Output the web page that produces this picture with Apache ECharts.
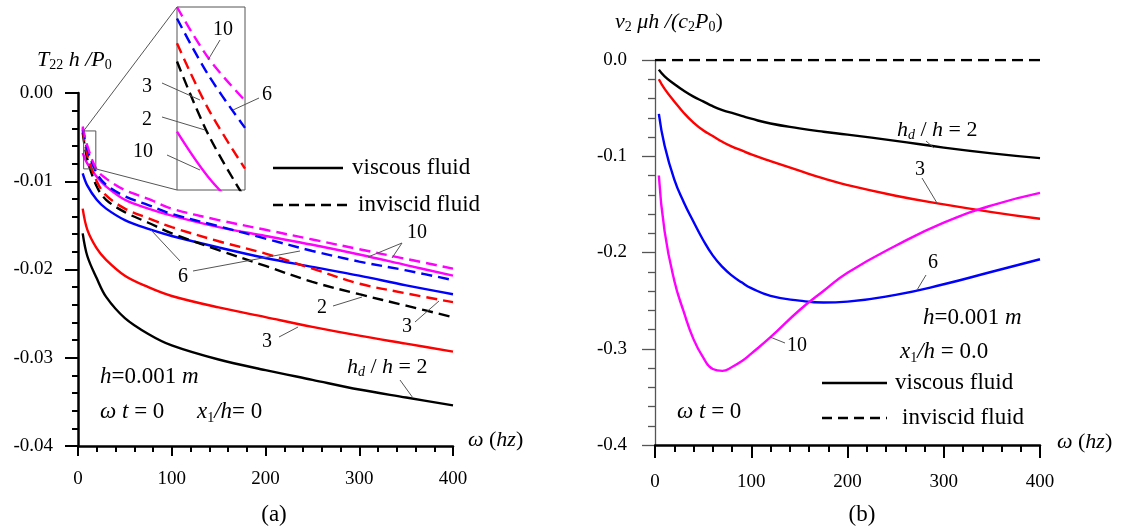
<!DOCTYPE html>
<html><head><meta charset="utf-8">
<script src="https://cdn.jsdelivr.net/npm/echarts@6/dist/echarts.min.js"></script>
<style>html,body{margin:0;padding:0;background:#fff}#c{width:1121px;height:530px}</style>
</head><body><div id="c"></div>
<script>
// ---------- Panel (a): T22 h / P0 vs omega ----------
const xA = [5, 10, 20, 30, 50, 75, 100, 150, 200, 250, 300, 350, 400];
const aVisc2  = [-0.0159, -0.0185, -0.0210, -0.0231, -0.0255, -0.0273, -0.0286, -0.0302, -0.0314, -0.0325, -0.0336, -0.0345, -0.0354];
const aVisc3  = [-0.0131, -0.0155, -0.0176, -0.0189, -0.0207, -0.0220, -0.0230, -0.0243, -0.0254, -0.0265, -0.0275, -0.0284, -0.0293];
const aVisc6  = [-0.0091, -0.0105, -0.0121, -0.0131, -0.0144, -0.0154, -0.0162, -0.0175, -0.0187, -0.0197, -0.0207, -0.0218, -0.0228];
const aVisc10 = [-0.0068, -0.0080, -0.0095, -0.0106, -0.0121, -0.0131, -0.0139, -0.0152, -0.0162, -0.0172, -0.0183, -0.0195, -0.0207];
const aInv2   = [-0.0045, -0.0075, -0.0106, -0.0121, -0.0135, -0.0147, -0.0159, -0.0178, -0.0196, -0.0214, -0.0228, -0.0241, -0.0254];
const aInv3   = [-0.0042, -0.0070, -0.0100, -0.0116, -0.0131, -0.0142, -0.0152, -0.0168, -0.0182, -0.0199, -0.0216, -0.0227, -0.0237];
const aInv6   = [-0.0040, -0.0064, -0.0091, -0.0104, -0.0117, -0.0127, -0.0137, -0.0151, -0.0165, -0.0179, -0.0191, -0.0201, -0.0212];
const aInv10  = [-0.0038, -0.0060, -0.0087, -0.0097, -0.0110, -0.0120, -0.0131, -0.0144, -0.0155, -0.0166, -0.0177, -0.0188, -0.0199];
// inset (zoomed view of the small box)
const insetRange = {xMin: 6, xMax: 19, yMin: -0.0086, yMax: -0.0043};
const insetX = [6, 12, 19];
const insInv10  = [-0.0043, -0.0055, -0.0065];
const insInv6   = [-0.00457, -0.0059, -0.00714];
const insInv3   = [-0.00515, -0.0067, -0.0081];
const insInv2   = [-0.00558, -0.0073, -0.0088];
const insVisc10 = [-0.00723, -0.0083, -0.0092];
const aYTicks = ['0.00', '-0.01', '-0.02', '-0.03', '-0.04'];
const xTicks = ['0', '100', '200', '300', '400'];

// ---------- Panel (b): v2 mu h /(c2 P0) vs omega ----------
const xB = [4, 10, 20, 30, 40, 50, 60, 70, 80, 90, 100, 120, 150, 175, 200, 250, 300, 350, 400];
const bVisc2  = [-0.010, -0.017, -0.025, -0.032, -0.038, -0.043, -0.048, -0.052, -0.055, -0.058, -0.061, -0.066, -0.071, -0.0745, -0.0775, -0.084, -0.091, -0.097, -0.102];
const bVisc3  = [-0.020, -0.030, -0.043, -0.055, -0.065, -0.073, -0.079, -0.085, -0.090, -0.094, -0.098, -0.105, -0.115, -0.123, -0.130, -0.141, -0.150, -0.158, -0.165];
const bVisc6  = [-0.056, -0.089, -0.124, -0.148, -0.168, -0.187, -0.203, -0.215, -0.224, -0.231, -0.237, -0.245, -0.250, -0.252, -0.251, -0.244, -0.233, -0.220, -0.207];
const bVisc10 = [-0.120, -0.178, -0.229, -0.262, -0.290, -0.309, -0.321, -0.323, -0.319, -0.313, -0.305, -0.288, -0.260, -0.240, -0.221, -0.193, -0.169, -0.151, -0.138];
const bInvX = [0, 400];
const bInv  = [0, 0];
const bYTicks = ['0.0', '-0.1', '-0.2', '-0.3', '-0.4'];

const F = 'Liberation Serif';
const BLACK = '#000', RED = '#ff0000', BLUE = '#0000ff', MAG = '#ff00ff';
const DASH = [11, 6];

function ser(xs, ys, color, dashed, xi, yi, z, sm) {
  return {
    type: 'line', xAxisIndex: xi, yAxisIndex: yi,
    data: xs.map((x, i) => [x, ys[i]]),
    smooth: sm || 0.35, showSymbol: false, symbol: 'none',
    lineStyle: {color: color, width: 2.4, type: dashed ? DASH : 'solid'},
    silent: true, animation: false, z: z || 2, clip: true
  };
}

function xAxisCfg(gi, labelMargin, tickLen, minorLen) {
  return {
    type: 'value', gridIndex: gi, min: 0, max: 400, interval: 100,
    axisLine: {show: true, onZero: false, lineStyle: {color: '#000', width: 2.5}},
    axisTick: {show: true, length: tickLen, lineStyle: {color: '#000', width: 2}},
    minorTick: {show: true, splitNumber: 5, length: minorLen, lineStyle: {color: '#000', width: 2}},
    axisLabel: {fontFamily: F, fontSize: 19, color: '#000', margin: labelMargin,
      formatter: v => xTicks[Math.round(v / 100)]},
    splitLine: {show: false}, minorSplitLine: {show: false}
  };
}

const option = {
  backgroundColor: '#fff',
  animation: false,
  grid: [
    {left: 78, top: 93, width: 375, height: 353},
    {left: 177, top: 7, width: 68, height: 183, show: true, borderColor: '#555', borderWidth: 1, backgroundColor: '#fff', z: 5},
    {left: 655, top: 60, width: 385, height: 385}
  ],
  xAxis: [
    xAxisCfg(0, 24, 10, 6),
    {type: 'value', gridIndex: 1, min: insetRange.xMin, max: insetRange.xMax, show: false, z: 5},
    xAxisCfg(2, 28, 13, 7)
  ],
  yAxis: [
    {type: 'value', gridIndex: 0, min: -0.04, max: 0, interval: 0.01,
      axisLine: {show: true, onZero: false, lineStyle: {color: '#000', width: 2.5}},
      axisTick: {show: true, length: 13, lineStyle: {color: '#000', width: 2}},
      minorTick: {show: true, splitNumber: 5, length: 6, lineStyle: {color: '#000', width: 2}},
      axisLabel: {fontFamily: F, fontSize: 19, color: '#000', margin: 25,
        formatter: v => aYTicks[Math.round(-v / 0.01)]},
      splitLine: {show: false}, minorSplitLine: {show: false}},
    {type: 'value', gridIndex: 1, min: insetRange.yMin, max: insetRange.yMax, show: false, z: 5},
    {type: 'value', gridIndex: 2, min: -0.4, max: 0, interval: 0.1,
      axisLine: {show: true, onZero: false, lineStyle: {color: '#555', width: 1.3}},
      axisTick: {show: true, length: 13, lineStyle: {color: '#555', width: 1.3}},
      minorTick: {show: true, splitNumber: 5, length: 7, lineStyle: {color: '#555', width: 1.3}},
      axisLabel: {fontFamily: F, fontSize: 19, color: '#000', margin: 28,
        formatter: v => bYTicks[Math.round(-v / 0.1)]},
      splitLine: {show: false}, minorSplitLine: {show: false}}
  ],
  series: [
    ser(xA, aVisc2, BLACK, false, 0, 0),
    ser(xA, aVisc3, RED, false, 0, 0),
    ser(xA, aVisc6, BLUE, false, 0, 0),
    ser(xA, aVisc10, MAG, false, 0, 0),
    ser(xA, aInv2, BLACK, true, 0, 0),
    ser(xA, aInv3, RED, true, 0, 0),
    ser(xA, aInv6, BLUE, true, 0, 0),
    ser(xA, aInv10, MAG, true, 0, 0),
    ser(insetX, insInv10, MAG, true, 1, 1, 6),
    ser(insetX, insInv6, BLUE, true, 1, 1, 6),
    ser(insetX, insInv3, RED, true, 1, 1, 6),
    ser(insetX, insInv2, BLACK, true, 1, 1, 6),
    ser(insetX, insVisc10, MAG, false, 1, 1, 6),
    ser(xB, bVisc2, BLACK, false, 2, 2, 2, 0.5),
    ser(xB, bVisc3, RED, false, 2, 2, 2, 0.5),
    ser(xB, bVisc6, BLUE, false, 2, 2, 2, 0.5),
    ser(xB, bVisc10, MAG, false, 2, 2, 2, 0.5),
    Object.assign(ser(bInvX, bInv, BLACK, true, 2, 2), {smooth: false})
  ]
};

const chart = echarts.init(document.getElementById('c'), null, {renderer: 'canvas'});
chart.setOption(option);

function rich(S) {
  const sub = Math.round(S * 0.62);
  return {
    n: {fontFamily: F, fontSize: S, color: '#000'},
    i: {fontFamily: F, fontSize: S, fontStyle: 'italic', color: '#000'},
    s: {fontFamily: F, fontSize: sub, color: '#000', padding: [Math.round(S * 0.5), 0, 0, 0], verticalAlign: 'bottom'},
    si: {fontFamily: F, fontSize: sub, fontStyle: 'italic', color: '#000', padding: [Math.round(S * 0.5), 0, 0, 0], verticalAlign: 'bottom'}
  };
}
function txt(x, y, str, S, align) {
  return {type: 'text', x: x, y: y, silent: true, z: 100,
    style: {text: str, rich: rich(S), font: S + 'px "' + F + '"', fill: '#000',
      align: align || 'left', verticalAlign: 'middle'}};
}
function ln(x1, y1, x2, y2, color, w, dash) {
  return {type: 'line', silent: true, z: 100,
    shape: {x1: x1, y1: y1, x2: x2, y2: y2},
    style: {stroke: color || '#555', lineWidth: w || 1, lineDash: dash || null}};
}

const tl = chart.convertToPixel({gridIndex: 0}, [insetRange.xMin, insetRange.yMax]);
const br = chart.convertToPixel({gridIndex: 0}, [insetRange.xMax, insetRange.yMin]);
const itl = chart.convertToPixel({gridIndex: 1}, [insetRange.xMin, insetRange.yMax]);
const ibl = chart.convertToPixel({gridIndex: 1}, [insetRange.xMin, insetRange.yMin]);

const g = [
  {type: 'rect', silent: true, z: 100, shape: {x: tl[0], y: tl[1], width: br[0] - tl[0], height: br[1] - tl[1]},
    style: {fill: 'none', stroke: '#555', lineWidth: 1}},
  ln(tl[0], tl[1], itl[0], itl[1]),
  ln(br[0], br[1], ibl[0], ibl[1]),
  txt(37, 60, '{i|T}{s|22}{i| h /P}{s|0}', 22),
  ln(273, 168, 343, 168, '#000', 2.5),
  txt(352, 168, '{n|viscous fluid}', 23),
  ln(273, 205, 348, 205, '#000', 2.5, [10, 6]),
  txt(358, 205, '{n|inviscid fluid}', 23),
  txt(100, 377, '{i|h}{n|=0.001 }{i|m}', 23),
  txt(100, 412, '{i|ω t}{n| = 0}', 23),
  txt(197, 412, '{i|x}{s|1}{i|/h}{n|= 0}', 23),
  txt(468, 440, '{i|ω}{n| (}{i|hz}{n|)}', 22),
  txt(274, 515, '{n|(a)}', 23, 'center'),
  txt(417, 233, '{n|10}', 20, 'center'),
  ln(402, 243, 368, 257), ln(402, 243, 392, 258),
  txt(183, 277, '{n|6}', 20, 'center'),
  ln(193, 271, 300, 251), ln(180, 261, 151, 230),
  txt(322, 308, '{n|2}', 20, 'center'),
  ln(333, 306, 362, 297),
  txt(407, 327, '{n|3}', 20, 'center'),
  ln(415, 322, 439, 301),
  txt(267, 342, '{n|3}', 20, 'center'),
  ln(279, 337, 298, 327),
  txt(347, 367, '{i|h}{si|d}{n| / }{i|h}{n| = 2}', 22),
  ln(400, 380, 413, 398),
  txt(223, 30, '{n|10}', 20, 'center'), ln(220, 40, 208, 60),
  txt(267, 95, '{n|6}', 20, 'center'), ln(259, 98, 233, 110),
  txt(147, 87, '{n|3}', 20, 'center'), ln(162, 83, 200, 100),
  txt(147, 120, '{n|2}', 20, 'center'), ln(162, 117, 205, 130),
  txt(143, 152, '{n|10}', 20, 'center'), ln(167, 155, 200, 170),
  txt(615, 22, '{i|v}{s|2}{i| μh /(c}{s|2}{i|P}{s|0}{n|)}', 22),
  txt(897, 130, '{i|h}{si|d}{n| / }{i|h}{n| = 2}', 22),
  ln(926, 141, 934, 148),
  txt(920, 170, '{n|3}', 20, 'center'), ln(922, 178, 937, 203),
  txt(933, 263, '{n|6}', 20, 'center'), ln(926, 275, 917, 290),
  txt(797, 346, '{n|10}', 20, 'center'), ln(785, 343, 770, 337),
  txt(923, 318, '{i|h}{n|=0.001 }{i|m}', 23),
  txt(900, 352, '{i|x}{s|1}{i|/h}{n| = 0.0}', 23),
  ln(822, 383, 887, 383, '#000', 2.5),
  txt(895, 383, '{n|viscous fluid}', 23),
  ln(822, 418, 887, 418, '#000', 2.5, [10, 6]),
  txt(902, 418, '{n|inviscid fluid}', 23),
  txt(677, 412, '{i|ω t}{n| = 0}', 23),
  txt(1057, 442, '{i|ω}{n| (}{i|hz}{n|)}', 22),
  txt(862, 515, '{n|(b)}', 23, 'center')
];
chart.setOption({graphic: g});
</script>
</body></html>
